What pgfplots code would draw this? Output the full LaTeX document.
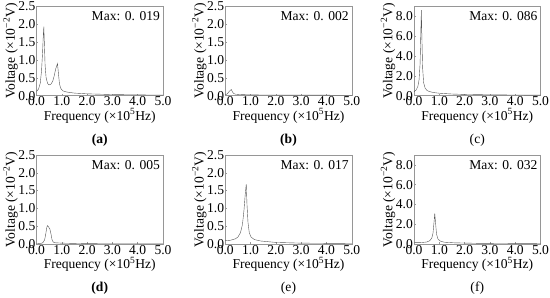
\documentclass[border=0pt]{standalone}
\usepackage{fontspec}
\setmainfont{Liberation Serif}
\usepackage{pgfplots}
\pgfplotsset{compat=1.18}
\usepgfplotslibrary{groupplots}

\definecolor{curve}{RGB}{85,85,85}
\definecolor{frame}{RGB}{150,150,150}

\pgfplotsset{
  spec/.style={
    scale only axis,
    width=126pt, height=89pt,
    xmin=0, xmax=5,
    xtick={0,1,2,3,4,5},
    clip=false,
    axis line style={frame, line width=0.5pt},
    tick style={frame, line width=0.4pt},
    major tick length=2pt,
    tick align=inside,
    tick pos=left,
    /pgf/number format/assume math mode=true,
    xticklabel style={/pgf/number format/.cd, fixed, fixed zerofill, precision=1},
    yticklabel style={/pgf/number format/.cd, fixed, fixed zerofill, precision=1},
    ticklabel style={font=\fontsize{13.5}{15}\selectfont, inner sep=1pt},
    xlabel={Frequency (×10\textsuperscript{5}Hz)},
    ylabel={Voltage (×10\textsuperscript{−2}V)},
    label style={font=\fontsize{13.5}{15}\selectfont},
    xlabel style={yshift=2pt},
    ylabel style={yshift=-4pt},
    cycle list={{curve, line width=0.6pt, no markers}},
  },
  lowy/.style={ymin=0, ymax=2.5, ytick={0,0.5,1,1.5,2,2.5}},
  highy/.style={ymin=0, ymax=9, ytick={0,2,4,6,8}},
}

\newcommand{\maxlabel}[1]{\node[anchor=north east, font=\fontsize{13.5}{15}\selectfont, inner sep=1pt] at (rel axis cs:0.985,0.95) {Max: 0. #1};}
\newcommand{\caplabel}[1]{\node[font=\fontsize{13.5}{15}\selectfont] at (rel axis cs:0.5,0) [yshift=-44pt] {#1};}

\begin{document}
\begin{tikzpicture}
\begin{groupplot}[
  group style={group size=3 by 2, horizontal sep=62pt, vertical sep=59pt},
  spec,
]
% (a)
\nextgroupplot[lowy]
\addplot coordinates {(0,0.12) (0.08,0.18) (0.15,0.35) (0.2,0.7) (0.24,1.2) (0.27,1.7) (0.29,1.93) (0.31,1.5) (0.34,0.85) (0.38,0.5) (0.44,0.34) (0.5,0.3) (0.57,0.32) (0.64,0.4) (0.7,0.55) (0.76,0.75) (0.83,0.9) (0.87,0.6) (0.91,0.32) (0.96,0.2) (1.05,0.13) (1.2,0.1) (1.5,0.07) (2.0,0.05) (2.5,0.04) (3.0,0.03) (4.0,0.02) (5.0,0.015)};
\maxlabel{019}
\caplabel{\textbf{(a)}}
% (b)
\nextgroupplot[lowy]
\addplot coordinates {(0,0.02) (0.08,0.05) (0.15,0.11) (0.2,0.15) (0.24,0.17) (0.28,0.11) (0.33,0.06) (0.4,0.04) (0.6,0.03) (1.0,0.02) (2.0,0.015) (5.0,0.01)};
\maxlabel{002}
\caplabel{\textbf{(b)}}
% (c)
\nextgroupplot[highy]
\addplot coordinates {(0,0.4) (0.08,0.55) (0.15,0.9) (0.2,1.6) (0.24,3.2) (0.27,6.5) (0.29,8.6) (0.31,6.0) (0.34,2.8) (0.38,1.3) (0.44,0.75) (0.52,0.5) (0.65,0.38) (0.8,0.3) (1.0,0.24) (1.5,0.16) (2.0,0.12) (3.0,0.08) (4.0,0.06) (5.0,0.05)};
\maxlabel{086}
\caplabel{(c)}
% (d)
\nextgroupplot[lowy]
\addplot coordinates {(0,0.01) (0.15,0.02) (0.25,0.04) (0.32,0.12) (0.37,0.3) (0.41,0.48) (0.44,0.52) (0.48,0.48) (0.53,0.42) (0.57,0.3) (0.61,0.14) (0.66,0.06) (0.75,0.04) (1.0,0.03) (2.0,0.015) (5.0,0.01)};
\maxlabel{005}
\caplabel{\textbf{(d)}}
% (e)
\nextgroupplot[lowy]
\addplot coordinates {(0,0.1) (0.2,0.11) (0.4,0.15) (0.5,0.2) (0.6,0.32) (0.68,0.55) (0.74,0.95) (0.79,1.4) (0.83,1.68) (0.86,1.1) (0.9,0.6) (0.95,0.32) (1.02,0.2) (1.15,0.13) (1.4,0.09) (2.0,0.05) (3.0,0.03) (5.0,0.02)};
\maxlabel{017}
\caplabel{(e)}
% (f)
\nextgroupplot[highy]
\addplot coordinates {(0,0.15) (0.3,0.17) (0.5,0.22) (0.62,0.35) (0.7,0.6) (0.75,1.1) (0.79,2.2) (0.82,3.1) (0.85,2.2) (0.89,1.0) (0.95,0.5) (1.05,0.3) (1.2,0.2) (1.6,0.14) (2.5,0.09) (3.5,0.07) (5.0,0.05)};
\maxlabel{032}
\caplabel{(f)}
\end{groupplot}
\end{tikzpicture}
\end{document}
